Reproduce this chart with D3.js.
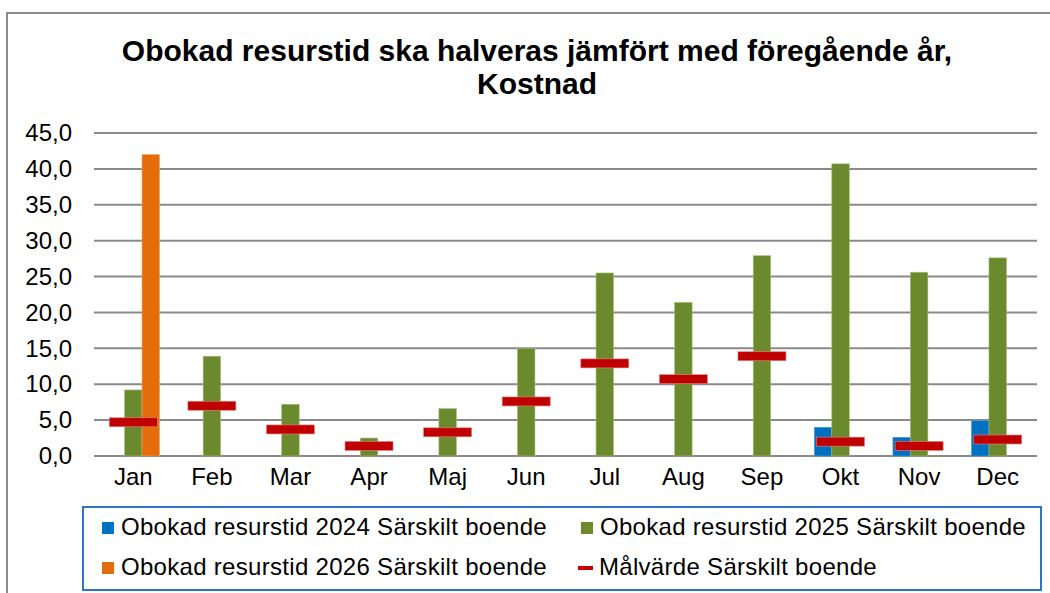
<!DOCTYPE html>
<html>
<head>
<meta charset="utf-8">
<script src="https://cdn.jsdelivr.net/npm/d3@7/dist/d3.min.js"></script>
<style>
  body { margin: 0; background: #fff; }
  svg { display: block; font-family: Arial, "Liberation Sans", sans-serif; }
</style>
</head>
<body>
<div class="chart"></div>
<script>
var months = ["Jan", "Feb", "Mar", "Apr", "Maj", "Jun", "Jul", "Aug", "Sep", "Okt", "Nov", "Dec"];
var obokad2024 = [null, null, null, null, null, null, null, null, null, 4.0, 2.6, 4.9];
var obokad2025 = [9.2, 13.9, 7.2, 2.5, 6.6, 15.0, 25.5, 21.4, 27.9, 40.7, 25.6, 27.6];
var obokad2026 = [42.0, null, null, null, null, null, null, null, null, null, null, null];
var malvarde = [4.7, 7.0, 3.7, 1.4, 3.3, 7.6, 12.9, 10.7, 13.9, 2.0, 1.4, 2.3];
var yTicks = [0, 5, 10, 15, 20, 25, 30, 35, 40, 45];

var titleLines = ["Obokad resurstid ska halveras jämfört med föregående år,", "Kostnad"];
var seriesNames = ["Obokad resurstid 2024 Särskilt boende", "Obokad resurstid 2025 Särskilt boende",
                   "Obokad resurstid 2026 Särskilt boende", "Målvärde Särskilt boende"];

var colors = {blue: "#0070c0", green: "#6b8a2d", orange: "#e46c0a", red: "#c00000"};

var W = 1050, H = 593;
var plot = {left: 94, right: 1037, top: 133, bottom: 456};

var svg = d3.select(".chart").append("svg")
    .attr("width", W)
    .attr("height", H);

// outer chart frame (runs off the right/bottom edge in the reference)
svg.append("rect")
    .attr("x", 7).attr("y", 13)
    .attr("width", W + 20).attr("height", H + 20)
    .attr("fill", "none")
    .attr("stroke", "#8c8c8c")
    .attr("stroke-width", 2);

// title
svg.append("g").selectAll("text")
    .data(titleLines)
    .enter().append("text")
    .attr("x", 537)
    .attr("y", function(d, i) { return 61 + i * 33; })
    .attr("text-anchor", "middle")
    .style("font-size", "30px")
    .style("font-weight", "bold")
    .text(function(d) { return d; });

var x = d3.scaleBand()
    .domain(months)
    .range([plot.left, plot.right]);

var x1 = d3.scaleBand()
    .domain(["2024", "2025", "2026"])
    .range([0, x.bandwidth()])
    .paddingInner(0)
    .paddingOuter(0.75);

var y = d3.scaleLinear()
    .domain([0, 45])
    .range([plot.bottom, plot.top]);

var fmt = function(v) { return d3.format(".1f")(v).replace(".", ","); };

// gridlines
svg.append("g").selectAll("line")
    .data(yTicks)
    .enter().append("line")
    .attr("x1", plot.left).attr("x2", plot.right)
    .attr("y1", function(d) { return y(d); })
    .attr("y2", function(d) { return y(d); })
    .attr("stroke", "#8a8a8a")
    .attr("stroke-width", 2);

// y axis labels
var yAxis = d3.axisLeft(y)
    .tickValues(yTicks)
    .tickFormat(fmt)
    .tickSize(0)
    .tickPadding(0);

var yg = svg.append("g")
    .attr("transform", "translate(72,0)")
    .call(yAxis);
yg.select(".domain").remove();
yg.selectAll("text")
    .style("font-size", "24px")
    .attr("fill", "#000")
    .attr("font-family", null);

// x axis labels
var xAxis = d3.axisBottom(x).tickSize(0).tickPadding(0);
var xg = svg.append("g")
    .attr("transform", "translate(0,468)")
    .call(xAxis);
xg.select(".domain").remove();
xg.selectAll("text")
    .style("font-size", "24px")
    .attr("fill", "#000")
    .attr("font-family", null)
    .attr("dy", "0.71em");

// bars
var bars = [
    {key: "2024", values: obokad2024, color: colors.blue, edge: "#4a9ad6"},
    {key: "2025", values: obokad2025, color: colors.green, edge: "#a2bb78"},
    {key: "2026", values: obokad2026, color: colors.orange, edge: "#f0a060"}
];

bars.forEach(function(s) {
    var pts = s.values.map(function(v, i) { return {m: months[i], v: v}; })
        .filter(function(d) { return d.v != null; });
    svg.append("g").selectAll("rect")
        .data(pts)
        .enter().append("rect")
        .attr("x", function(d) { return x(d.m) + x1(s.key); })
        .attr("y", function(d) { return y(d.v); })
        .attr("width", x1.bandwidth())
        .attr("height", function(d) { return y(0) - y(d.v); })
        .attr("fill", s.color)
        .attr("stroke", s.edge)
        .attr("stroke-width", 0.6);
});

// target markers
svg.append("g").selectAll("rect")
    .data(malvarde.map(function(v, i) { return {m: months[i], v: v}; }))
    .enter().append("rect")
    .attr("x", function(d) { return x(d.m) + x.bandwidth() / 2 - 24; })
    .attr("y", function(d) { return y(d.v) - 4.5; })
    .attr("width", 48)
    .attr("height", 9)
    .attr("fill", colors.red)
    .attr("stroke", "#e88080")
    .attr("stroke-width", 0.6);

// legend
svg.append("rect")
    .attr("x", 83).attr("y", 507)
    .attr("width", 958).attr("height", 83)
    .attr("fill", "#fff")
    .attr("stroke", "#2e75c4")
    .attr("stroke-width", 2);

var legendItems = [
    {name: seriesNames[0], color: colors.blue, type: "box", x: 102, y: 535},
    {name: seriesNames[1], color: colors.green, type: "box", x: 581, y: 535},
    {name: seriesNames[2], color: colors.orange, type: "box", x: 102, y: 575},
    {name: seriesNames[3], color: colors.red, type: "line", x: 578, y: 575}
];

var lg = svg.append("g").selectAll("g")
    .data(legendItems)
    .enter().append("g");

lg.filter(function(d) { return d.type == "box"; }).append("rect")
    .attr("x", function(d) { return d.x; })
    .attr("y", function(d) { return d.y - 13; })
    .attr("width", 12).attr("height", 12)
    .attr("fill", function(d) { return d.color; });

lg.filter(function(d) { return d.type == "line"; }).append("rect")
    .attr("x", function(d) { return d.x; })
    .attr("y", function(d) { return d.y - 9; })
    .attr("width", 15).attr("height", 4)
    .attr("fill", function(d) { return d.color; });

lg.append("text")
    .attr("x", function(d) { return d.x + (d.type == "box" ? 19 : 21); })
    .attr("y", function(d) { return d.y; })
    .style("font-size", "24px")
    .style("letter-spacing", "0.3px")
    .text(function(d) { return d.name; });
</script>
</body>
</html>
